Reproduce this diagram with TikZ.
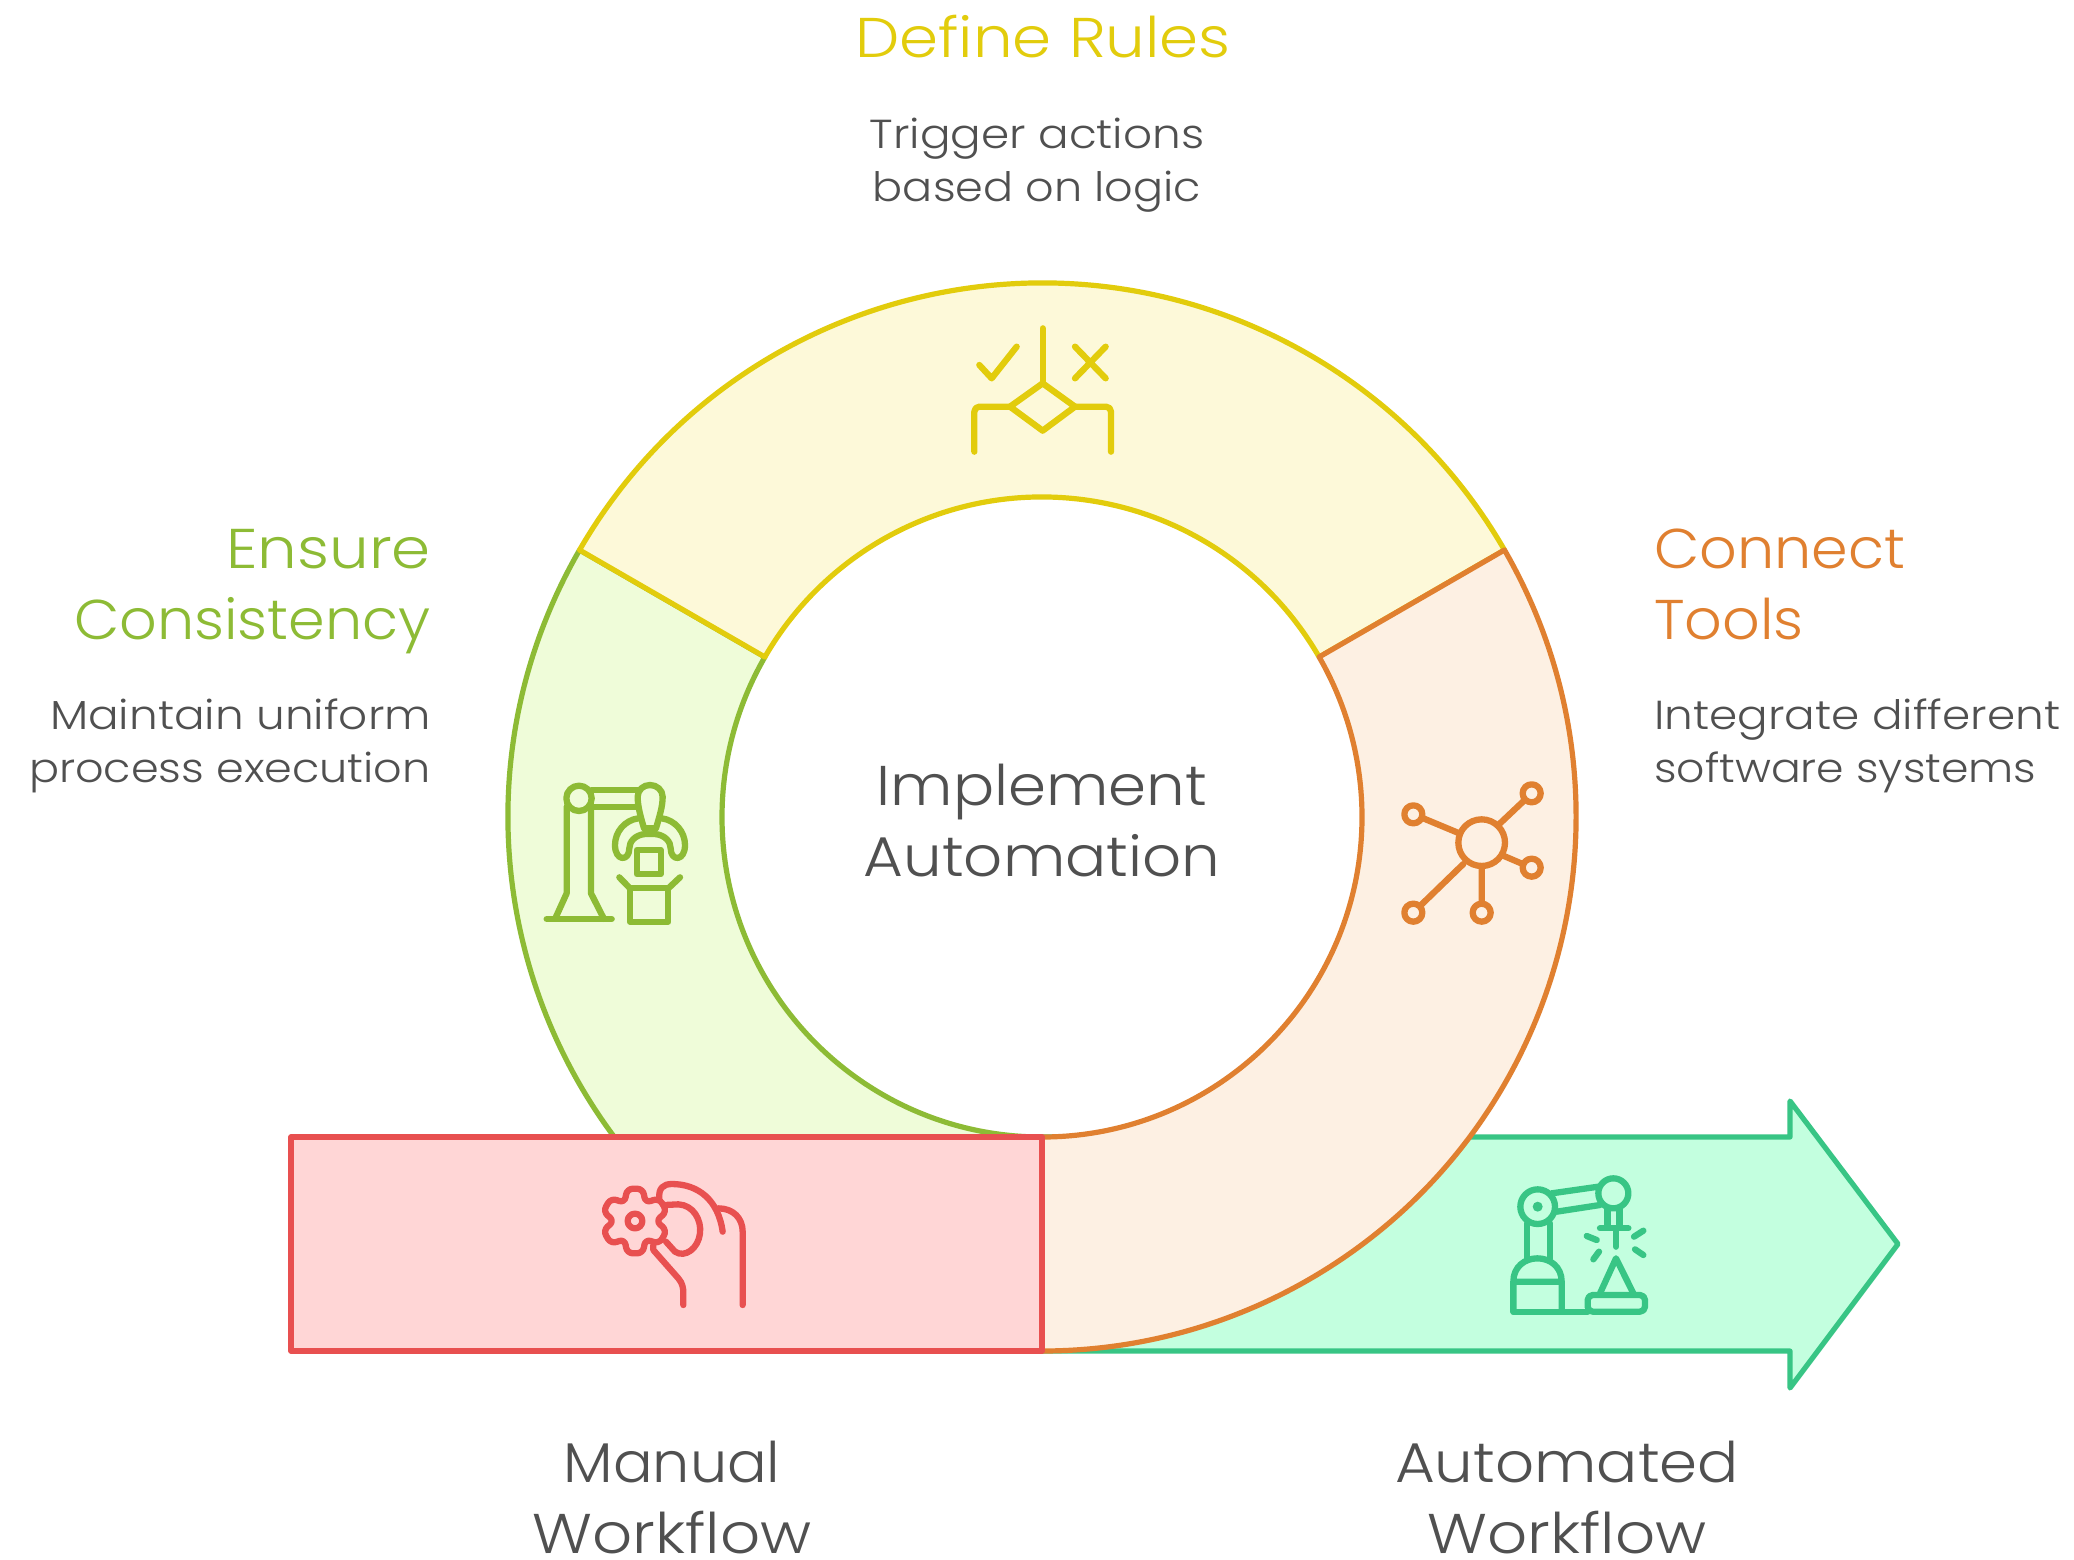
\documentclass[tikz,border=0pt]{standalone}
\usepackage{fontspec}
\setmainfont{Poppins}[UprightFont=* Light,FakeStretch=1.12]
\newfontfamily\tightA{Poppins}[UprightFont=* Light,FakeStretch=1.05]
\newfontfamily\tightB{Poppins}[UprightFont=* Light,FakeStretch=1.09]
\newfontfamily\tightC{Poppins}[UprightFont=* Light,FakeStretch=1.10]
\definecolor{yS}{HTML}{E2CC0C}\definecolor{yF}{HTML}{FDF9D9}
\definecolor{gS}{HTML}{8DBB35}\definecolor{gF}{HTML}{EFFCD9}
\definecolor{oS}{HTML}{E08030}\definecolor{oF}{HTML}{FDF0E3}
\definecolor{rS}{HTML}{E85050}\definecolor{rF}{HTML}{FFD6D6}
\definecolor{mS}{HTML}{38C585}\definecolor{mF}{HTML}{C3FFDF}
\definecolor{txt}{HTML}{505050}
\tikzset{
 shapeline/.style={line width=5.2pt,line join=round},
 icon/.style={line width=6.3pt,line cap=round,line join=round},
 head/.style={font=\fontsize{56}{71}\selectfont,inner sep=0pt,align=center},
 body/.style={font=\fontsize{40.5}{53.5}\selectfont,inner sep=0pt,text=txt},
}
\begin{document}
\begin{tikzpicture}[x=1pt,y=-1pt]
\useasboundingbox (0,0) rectangle (2074,1560);
\fill[white] (0,0) rectangle (2074,1560);
% arrow
\draw[shapeline,draw=mS,fill=mF] (1042,1137) -- (1790,1137) -- (1790,1101) -- (1898,1244) -- (1790,1388) -- (1790,1351) -- (1042,1351) -- cycle;
% ring
\begin{scope}[shift={(1042,817)},y=1pt]
\draw[shapeline,draw=gS,fill=gF] (150:534) arc[start angle=150,end angle=270,radius=534] -- (270:320) arc[start angle=270,end angle=150,radius=320] -- cycle;
\draw[shapeline,draw=yS,fill=yF] (150:534) arc[start angle=150,end angle=30,radius=534] -- (30:320) arc[start angle=30,end angle=150,radius=320] -- cycle;
\draw[shapeline,draw=oS,fill=oF] (30:534) arc[start angle=30,end angle=-90,radius=534] -- (-90:320) arc[start angle=-90,end angle=30,radius=320] -- cycle;
\end{scope}
\draw[shapeline,draw=rS,fill=rF] (291,1137) rectangle (1042,1351);
% icon: rules
\begin{scope}[shift={(930,300)},scale=1/3,icon,draw=yS]
\draw (338,85) -- (338,250);
\draw (338,250) -- (435,320) -- (338,392) -- (240,320) -- cycle;
\draw[rounded corners=5pt] (133,455) -- (133,320) -- (240,320);
\draw[rounded corners=5pt] (543,455) -- (543,320) -- (435,320);
\draw (148,195) -- (185,235) -- (260,140);
\draw (435,140) -- (527,235) (527,140) -- (435,235);
\end{scope}
% icon: consistency robot
\begin{scope}[shift={(530,760)},scale=1/3,icon,draw=gS]
\draw (147,115) circle[radius=38];
\draw (185,90) -- (330,90) (185,140) -- (325,140);
\draw (342,205) .. controls (332,170) and (323,140) .. (323,110) .. controls (323,90) and (340,75) .. (360,75) .. controls (380,75) and (398,90) .. (398,110) .. controls (398,140) and (388,170) .. (378,205) -- cycle;
\draw (110,140) -- (110,400) -- (75,477) (183,150) -- (183,400) -- (222,477);
\draw (50,477) -- (245,477);
\draw (325,175) .. controls (285,180) and (255,215) .. (255,255) .. controls (255,305) and (298,305) .. (298,265) .. controls (298,245) and (315,225) .. (345,222) -- (375,222) .. controls (405,225) and (422,245) .. (422,265) .. controls (422,305) and (465,305) .. (465,255) .. controls (465,215) and (435,180) .. (395,175);
\draw (320,270) rectangle (392,342);
\draw (300,385) rectangle (415,485);
\draw (268,352) -- (300,385) (450,352) -- (415,385);
\end{scope}
% icon: connect tools
\begin{scope}[shift={(1380,760)},scale=1/3,icon,draw=oS]
\draw (305,248) circle[radius=70];
\draw (100,163) circle[radius=27] (455,100) circle[radius=27] (455,323) circle[radius=27] (100,458) circle[radius=27] (305,458) circle[radius=27];
\draw (130,175) -- (238,220) (432,122) -- (358,192) (428,312) -- (372,288) (120,438) -- (250,312) (305,318) -- (305,431);
\end{scope}
% icon: manual workflow
\begin{scope}[shift={(590,1160)},scale=1/3,icon,draw=rS]
\begin{scope}[shift={(135,183)}]
\draw[rounded corners=6pt] (-24,-97) -- (24,-97) -- (31,-54) -- (72,-69) -- (96,-28) -- (62,0) -- (96,28) -- (72,69) -- (31,54) -- (24,97) -- (-24,97) -- (-31,54) -- (-72,69) -- (-96,28) -- (-62,0) -- (-96,-28) -- (-72,-69) -- (-31,-54) -- cycle;
\draw (0,0) circle[radius=22];
\end{scope}
\draw (208,115) .. controls (205,85) and (220,72) .. (245,72) .. controls (325,72) and (385,120) .. (398,215);
\draw (225,135) -- (265,133) .. controls (310,135) and (335,180) .. (330,220) .. controls (325,265) and (285,295) .. (255,275) -- (228,245);
\draw (385,145) .. controls (430,145) and (458,175) .. (458,215) -- (458,435);
\draw (190,255) -- (190,270) -- (265,355) .. controls (278,370) and (280,385) .. (280,400) -- (280,435);
\end{scope}
% icon: automated workflow
\begin{scope}[shift={(1500,1160)},scale=1/3,icon,draw=mS]
\draw (113,140) circle[radius=52] (340,100) circle[radius=45];
\fill[mS] (113,140) circle[radius=15];
\draw (155,100) -- (295,80) (170,155) -- (300,135);
\draw (80,190) -- (80,295) (150,190) -- (150,295);
\draw (40,455) -- (40,365) .. controls (40,320) and (75,295) .. (112,295) .. controls (150,295) and (185,320) .. (185,365) -- (185,455) (40,365) -- (185,365);
\draw (40,455) -- (263,455);
\draw[rounded corners=5pt] (263,455) -- (263,405) -- (435,405) -- (435,455) -- cycle;
\draw (300,400) -- (348,295) -- (400,400);
\draw (322,148) -- (322,200) (358,148) -- (358,200) (300,205) -- (385,205) (348,205) -- (348,260);
\draw (260,228) -- (290,240) (280,298) -- (297,275) (402,230) -- (430,212) (405,268) -- (430,285);
\end{scope}
% text
\node[head,text=yS] (define) at (1043,37) {Define Rules};
\node[body,align=center] (definetxt) at (1037,165) {Trigger actions\\\tightC based on logic};
\node[head,text=gS,align=right,anchor=east] (ensure) at (431,592) {Ensure\\\tightA Consistency};
\node[body,align=right,anchor=east] (ensuretxt) at (431,746) {Maintain uniform\\\tightC process execution};
\node[head,text=oS,align=left,anchor=west] (connect) at (1654,584) {\tightA Connect\\\tightA Tools};
\node[body,align=left,anchor=west] (connecttxt) at (1654,746) {Integrate different\\\tightB software systems};
\node[head,text=txt] (center) at (1042,821) {\tightB Implement\\\tightB Automation};
\node[head,text=txt] (manual) at (672,1497) {\tightA Manual\\Workflow};
\node[head,text=txt] (auto) at (1567,1497) {\tightB Automated\\Workflow};
\end{tikzpicture}
\end{document}
